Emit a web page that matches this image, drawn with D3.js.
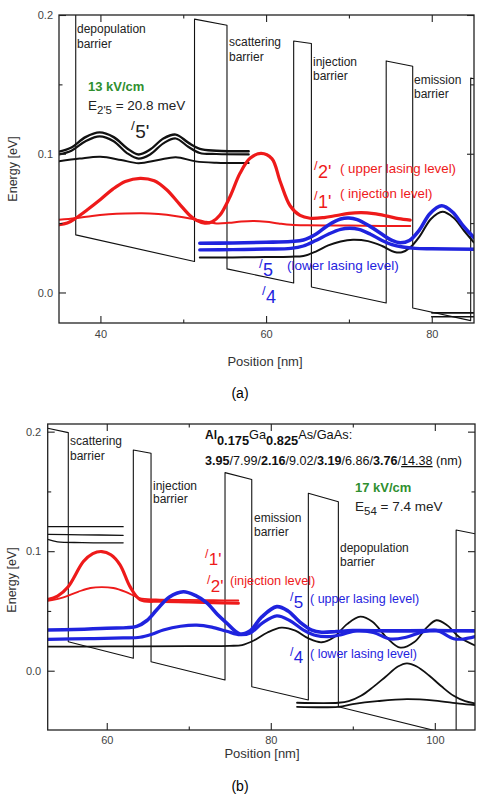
<!DOCTYPE html>
<meta charset="utf-8">
<script src="https://d3js.org/d3.v7.min.js"></script>
<style>
  body { margin: 0; background: #fff; }
  text { font-family: Arial, "Liberation Sans", sans-serif; }
</style>
<div id="fig"></div>
<script>

// ---------- panel (a): 13 kV/cm ----------
var aXDomain = [35, 85.1], aYDomain = [-0.022, 0.2];
var aXTicks = [40, 60, 80], aXMinor = [50, 70];
var aYTicks = [0.0, 0.1, 0.2], aYMinor = [0.05, 0.15];

// conduction band edge (position nm, energy eV)
var bandA = [[37.02,0.25],[37.02,0.0415],[51.36,0.0223],[51.36,0.197],[55.28,0.1926],[55.28,0.017],
  [63.33,0.0068],[63.33,0.1813],[65.47,0.1794],[65.47,0.0039],[74.5,-0.0076],[74.5,0.1669],
  [77.7,0.163],[77.7,-0.0112],[84.7,-0.0203],[84.7,0.1545],[85.3,0.1538]];

// black states of the previous period (5' etc.)
var blackA1 = [[35,0.1015],[36.5,0.1045],[38.2,0.112],[39.9,0.1154],[41.6,0.112],[43.2,0.104],[44.6,0.0995],
  [46,0.103],[47.6,0.111],[49.1,0.1138],[50.6,0.108],[52,0.1035],[54,0.1022],[57.9,0.1018]];
var blackA2 = [[35,0.0995],[36.5,0.1022],[38.2,0.109],[39.9,0.1125],[41.6,0.109],[43.2,0.1005],[44.6,0.0965],
  [46,0.0995],[47.6,0.1075],[49.1,0.111],[50.6,0.105],[52,0.1005],[54,0.0998],[57.9,0.0995]];
var blackA3 = [[35,0.0945],[37.5,0.0965],[40,0.0978],[42.5,0.0955],[44.6,0.0932],[47,0.0955],[49.1,0.0975],
  [51.5,0.0945],[54,0.0935],[57.9,0.0933]];
var blackA4 = [[52,0.0252],[56,0.0253],[60,0.0255],[63,0.0258],[64.5,0.0263],[66,0.0295],[67.5,0.034],
  [69,0.0368],[70.5,0.038],[72.3,0.037],[74,0.0335],[75.5,0.0292],[76.4,0.029],[77.4,0.0325],[78.6,0.041],
  [79.9,0.053],[81.3,0.0582],[82.6,0.054],[83.9,0.0445],[85.1,0.036]];
var blackA5 = [[80,-0.0147],[85.1,-0.0147]];
var blackA6 = [[80,-0.0175],[85.1,-0.0175]];

// red: 2' (upper lasing level) and 1' (injection level)
var redA2 = [[35,0.0488],[36,0.050],[37,0.0535],[38.5,0.060],[40,0.067],[41.5,0.0745],[43,0.080],[44.8,0.0823],
  [46.5,0.0805],[48,0.074],[49.5,0.064],[50.8,0.0555],[51.6,0.052],[52.6,0.050],[53.5,0.051],[54.44,0.0558],
  [55.64,0.069],[56.85,0.0859],[58.06,0.0967],[59.4,0.1003],[60.7,0.0965],[61.7,0.080],[62.9,0.0625],
  [64.1,0.0555],[65.3,0.0535],[67,0.054],[68.5,0.0555],[70,0.057],[71.5,0.0575],[73,0.0568],[74.5,0.0552],
  [76,0.0532],[77.4,0.0522]];
var redA1 = [[35,0.0525],[37,0.0535],[39,0.0552],[41,0.0563],[43,0.0569],[45,0.0571],[47,0.0565],[49,0.0552],
  [51,0.0532],[52.5,0.0512],[54,0.0498],[55.5,0.0502],[57,0.0512],[58.5,0.0516],[60,0.051],[61.5,0.0498],
  [63,0.0488],[65,0.0484],[70,0.0482],[74,0.048],[77.4,0.048]];

// blue: 5 and 4
var blueA5 = [[52,0.0355],[56,0.0357],[60,0.0362],[63,0.0368],[64.5,0.0378],[66,0.042],[67.5,0.0485],
  [69,0.053],[70,0.0537],[71,0.0525],[72.5,0.0478],[74,0.042],[75.2,0.0375],[76.2,0.0358],[77.3,0.0375],
  [78.5,0.045],[79.8,0.057],[81.2,0.0625],[82.5,0.058],[83.8,0.048],[85.1,0.0395]];
var blueA4 = [[52,0.0307],[56,0.0309],[60,0.0313],[63,0.0318],[64.5,0.0335],[66,0.0375],[67.5,0.042],
  [69,0.0455],[70.1,0.0463],[71.2,0.0455],[72.6,0.042],[74,0.0375],[75.2,0.0345],[76.5,0.0328],
  [78,0.0318],[80,0.0315],[85.1,0.0312]];

// ---------- panel (b): 17 kV/cm ----------
var bXDomain = [52.8, 104.9], bYDomain = [-0.0496, 0.2064];
var bXTicks = [60, 80, 100], bXMinor = [70, 90];
var bYTicks = [0.0, 0.1, 0.2], bYMinor = [0.05, 0.15];

var bandB = [[52.8,0.2028],[55.31,0.1992],[55.31,0.0243],[63.24,0.0104],[63.24,0.1847],[65.4,0.1819],
  [65.4,0.0075],[74.42,-0.0078],[74.42,0.1657],[77.68,0.160],[77.68,-0.0134],[84.58,-0.0245],
  [84.58,0.1485],[88.24,0.1414],[88.24,-0.0301],[102.6,-0.0545],[102.6,0.1177],[105.2,0.1142]];

var blackB1 = [[52.8,0.1205],[62.0,0.1205]];
var blackB2 = [[52.8,0.1140],[57,0.1137],[62.0,0.1133]];
var blackB3 = [[52.8,0.1098],[54,0.1078],[57,0.1072],[62.0,0.1070]];
var blackB4 = [[52.8,0.0201],[60,0.0203],[70,0.0206],[75,0.0208],[76.5,0.0215],[78,0.0255],[79.6,0.032],
  [81.3,0.036],[83,0.0335],[84.6,0.027],[86.2,0.0238],[87.7,0.028],[89.3,0.039],[90.9,0.0452],[92.4,0.041],
  [94.1,0.028],[95.8,0.0193],[97.5,0.024],[99,0.036],[100.2,0.0422],[101.5,0.038],[103,0.028],[104.9,0.0212]];
var blackB5 = [[83.2,-0.0268],[88.24,-0.0268],[89.5,-0.0255],[91,-0.021],[92.5,-0.0135],[94,-0.005],
  [95.5,0.0035],[96.6,0.0062],[97.8,0.0035],[99.3,-0.004],[100.8,-0.013],[102.3,-0.021],[103.7,-0.0255],[104.9,-0.0273]];
var blackB6 = [[83.2,-0.0302],[88.24,-0.0302],[90,-0.028],[93,-0.0255],[96.6,-0.0238],[100,-0.025],
  [103,-0.0275],[104.9,-0.0287]];

var redB1 = [[52.8,0.0595],[54,0.0625],[55.3,0.0703],[57.15,0.0913],[58.3,0.098],[59.4,0.0997],[60.5,0.097],
  [61.62,0.0886],[62.84,0.0703],[64.06,0.0595],[66.5,0.0581],[70,0.0576],[73,0.057],[76.04,0.0565]];
var redB2 = [[52.8,0.0585],[54.5,0.061],[56.5,0.066],[58,0.0692],[59.4,0.070],[60.8,0.0692],[62.3,0.066],
  [64,0.0608],[66,0.0596],[70,0.0592],[73,0.059],[76.04,0.0588]];

var blueB5 = [[52.8,0.034],[56,0.0345],[60,0.0355],[63.65,0.0371],[64.9,0.042],[66.1,0.051],[67.6,0.0615],
  [69.34,0.0661],[70.8,0.063],[72.2,0.0567],[73.5,0.047],[74.63,0.0399],[76.25,0.0308],[77.5,0.0335],
  [78.9,0.045],[80.73,0.0536],[82.1,0.050],[83.5,0.041],[85,0.034],[86.2,0.0322],[88,0.0328],[90,0.0335],
  [95,0.0333],[100,0.0335],[104.9,0.0333]];
var blueB4 = [[52.8,0.0263],[58,0.0268],[62,0.0274],[64.06,0.028],[65.5,0.0305],[66.9,0.034],[69,0.0372],
  [70.97,0.0382],[72.8,0.0365],[74.63,0.033],[76.25,0.0301],[77.5,0.0315],[79,0.040],[80.73,0.0458],
  [82.3,0.042],[84,0.034],[85.5,0.0295],[87,0.0285],[88.5,0.030],[90.5,0.0335],[92.5,0.032],[94.6,0.0265],
  [96.5,0.028],[98.5,0.0325],[100.2,0.0338],[102.3,0.0268],[103.5,0.0265],[104.9,0.0285]];

// layer sequence printed in panel (b): [thickness, barrier?]
var layers = [["3.95", true], ["7.99", false], ["2.16", true], ["9.02", false],
  ["3.19", true], ["6.86", false], ["3.76", true], ["14.38", false]];

var RED = "#ee1a1a", BLUE = "#1f23de", GREEN = "#2f8f2f";

var svg = d3.select("#fig").append("svg")
  .attr("width", 478).attr("height", 796);

function drawPanel(p) {
  var x = d3.scaleLinear().domain(p.xDomain).range([p.left, p.right]);
  var y = d3.scaleLinear().domain(p.yDomain).range([p.bottom, p.top]);

  svg.append("clipPath").attr("id", "clip" + p.id)
    .append("rect")
      .attr("x", p.left).attr("y", p.top)
      .attr("width", p.right - p.left).attr("height", p.bottom - p.top);

  var plot = svg.append("g").attr("clip-path", "url(#clip" + p.id + ")");

  p.series.forEach(function(s) {
    plot.append("path")
      .datum(s.data)
      .attr("d", d3.line()
        .x(function(d) { return x(d[0]); })
        .y(function(d) { return y(d[1]); })
        .curve(s.smooth ? d3.curveCatmullRom.alpha(0.5) : d3.curveLinear))
      .attr("fill", "none")
      .attr("stroke", s.color)
      .attr("stroke-width", s.width)
      .attr("stroke-linejoin", "round")
      .attr("stroke-linecap", s.smooth ? "round" : "butt");
  });

  // axes, ticks pointing inward on all four sides
  function axis(gen, tr, vals, size, fmt, pad) {
    var a = svg.append("g").attr("transform", tr)
      .call(gen.tickValues(vals).tickSize(size).tickPadding(pad || 3).tickFormat(fmt || ""));
    a.select(".domain").remove();
    a.selectAll("line").attr("stroke", "#222").attr("stroke-width", 1.1);
    a.selectAll("text").attr("fill", "#444").attr("font-size", 11)
      .attr("font-family", "Arial, 'Liberation Sans', sans-serif");
    return a;
  }
  var fx = d3.format("d"), fy = d3.format(".1f");
  axis(d3.axisBottom(x), "translate(0," + p.bottom + ")", p.xTicks, -7, fx, p.xPad);
  axis(d3.axisBottom(x), "translate(0," + p.bottom + ")", p.xMinor, -3.5);
  axis(d3.axisTop(x), "translate(0," + p.top + ")", p.xTicks, -7);
  axis(d3.axisTop(x), "translate(0," + p.top + ")", p.xMinor, -3.5);
  axis(d3.axisLeft(y), "translate(" + p.left + ",0)", p.yTicks, -7, fy, p.yPad);
  axis(d3.axisLeft(y), "translate(" + p.left + ",0)", p.yMinor, -3.5);
  axis(d3.axisRight(y), "translate(" + p.right + ",0)", p.yTicks, -7);
  axis(d3.axisRight(y), "translate(" + p.right + ",0)", p.yMinor, -3.5);

  svg.append("rect")
    .attr("x", p.left).attr("y", p.top)
    .attr("width", p.right - p.left).attr("height", p.bottom - p.top)
    .attr("fill", "none").attr("stroke", "#222").attr("stroke-width", 1.3);

  svg.append("text")
    .attr("transform", "translate(" + p.yTitleX + "," + p.yTitleY + ") rotate(-90)")
    .attr("text-anchor", "middle").attr("font-size", 12.5).attr("fill", "#333")
    .text("Energy [eV]");
  svg.append("text")
    .attr("x", p.xTitleX).attr("y", p.xTitleY)
    .attr("text-anchor", "middle").attr("font-size", 13).attr("fill", "#333")
    .text("Position [nm]");
  svg.append("text")
    .attr("x", 240).attr("y", p.capY)
    .attr("text-anchor", "middle").attr("font-size", 14)
    .attr("font-family", "'Liberation Serif', 'Times New Roman', serif")
    .text(p.caption);
}

var thin = function(d) { return { data: d, color: "#111", width: 1.1, smooth: false }; };

drawPanel({
  id: "a", xDomain: aXDomain, yDomain: aYDomain,
  xTicks: aXTicks, xMinor: aXMinor, yTicks: aYTicks, yMinor: aYMinor,
  left: 59, right: 474, top: 15, bottom: 323, xPad: 7, yPad: 6,
  yTitleX: 17, yTitleY: 169, xTitleX: 265, xTitleY: 366, capY: 398, caption: "(a)",
  series: [
    thin(bandA),
    { data: blackA3, color: "#111", width: 2, smooth: true },
    { data: blackA2, color: "#111", width: 2.2, smooth: true },
    { data: blackA1, color: "#111", width: 2.4, smooth: true },
    { data: blackA5, color: "#111", width: 1.6, smooth: true },
    { data: blackA6, color: "#111", width: 1.6, smooth: true },
    { data: redA1, color: RED, width: 2, smooth: true },
    { data: redA2, color: RED, width: 3.2, smooth: true },
    { data: blackA4, color: "#111", width: 2, smooth: true },
    { data: blueA4, color: BLUE, width: 3.4, smooth: true },
    { data: blueA5, color: BLUE, width: 3.6, smooth: true }
  ]
});

drawPanel({
  id: "b", xDomain: bXDomain, yDomain: bYDomain,
  xTicks: bXTicks, xMinor: bXMinor, yTicks: bYTicks, yMinor: bYMinor,
  left: 47.7, right: 475, top: 424, bottom: 730, xPad: 6, yPad: 6.5,
  yTitleX: 16, yTitleY: 580, xTitleX: 262, xTitleY: 758, capY: 791, caption: "(b)",
  series: [
    thin(bandB),
    { data: blackB1, color: "#111", width: 1.3, smooth: true },
    { data: blackB2, color: "#111", width: 1.3, smooth: true },
    { data: blackB3, color: "#111", width: 1.3, smooth: true },
    { data: blackB4, color: "#111", width: 1.8, smooth: true },
    { data: blackB5, color: "#111", width: 1.8, smooth: true },
    { data: blackB6, color: "#111", width: 1.8, smooth: true },
    { data: redB2, color: RED, width: 1.8, smooth: true },
    { data: redB1, color: RED, width: 3.2, smooth: true },
    { data: blueB4, color: BLUE, width: 3.2, smooth: true },
    { data: blueB5, color: BLUE, width: 3.6, smooth: true }
  ]
});

// ---------- annotations ----------
function label(x, y, str, size, color, weight) {
  return svg.append("text").attr("x", x).attr("y", y)
    .attr("font-size", size || 12).attr("fill", color || "#222")
    .attr("font-weight", weight || "normal").text(str);
}
function twoLines(x, y1, y2, a, b, size) {
  label(x, y1, a, size); label(x, y2, b, size);
}
// state label: small raised slash, then the larger index beside it
function stateLabel(x, y, idx, color, size) {
  label(x, y - size * 0.42, "/", size * 0.72, color);
  label(x + size * 0.22, y, idx, size, color);
}
function energyLabel(x, y, sub, rest, size) {
  var t = svg.append("text").attr("x", x).attr("y", y).attr("font-size", size).attr("fill", "#222");
  t.append("tspan").text("E");
  t.append("tspan").attr("font-size", size * 0.85).attr("dy", 4).text(sub);
  t.append("tspan").attr("dy", -4).text(rest);
}

// (a)
twoLines(77, 33, 47.5, "depopulation", "barrier", 12);
twoLines(229, 46, 60.5, "scattering", "barrier", 12);
twoLines(313, 65.5, 80, "injection", "barrier", 12);
twoLines(414, 83.5, 98, "emission", "barrier", 12);
label(88, 91, "13 kV/cm", 13, GREEN, "bold");
energyLabel(88, 110, "2'5", " = 20.8 meV", 13.5);
stateLabel(131, 138, "5'", "#222", 19);
stateLabel(314, 178, "2'", RED, 18);
label(340, 173, "( upper lasing level)", 13.3, RED);
stateLabel(314, 208, "1'", RED, 18);
label(340, 198, "( injection level)", 13.3, RED);
stateLabel(259, 276, "5", BLUE, 18);
label(287, 270, "(lower lasing level)", 13.5, BLUE);
stateLabel(262, 302.5, "4", BLUE, 18);

// (b)
twoLines(70, 445, 459.5, "scattering", "barrier", 12);
twoLines(153, 489.5, 503, "injection", "barrier", 12);
twoLines(254, 521.5, 535.5, "emission", "barrier", 12);
twoLines(340, 551.5, 565.5, "depopulation", "barrier", 12);
label(355, 491.5, "17 kV/cm", 13, GREEN, "bold");
energyLabel(355, 510.5, "54", " = 7.4 meV", 13.5);

var comp = svg.append("text").attr("x", 205).attr("y", 438.5).attr("font-size", 12.8).attr("fill", "#111");
comp.append("tspan").attr("font-weight", "bold").attr("font-size", 12).text("Al");
comp.append("tspan").attr("font-weight", "bold").attr("dy", 6.5).text("0.175");
comp.append("tspan").attr("dy", -6.5).text("Ga");
comp.append("tspan").attr("font-weight", "bold").attr("dy", 6.5).text("0.825");
comp.append("tspan").attr("dy", -6.5).text("As/GaAs:");

var lt = svg.append("text").attr("x", 205).attr("y", 465).attr("font-size", 12.6).attr("fill", "#111");
layers.forEach(function(l, i) {
  if (i > 0) lt.append("tspan").text("/");
  var ts = lt.append("tspan").attr("font-weight", l[1] ? "bold" : "normal").text(l[0]);
  if (i === layers.length - 1) ts.style("text-decoration", "underline");
});
lt.append("tspan").text(" (nm)");

stateLabel(205, 565, "1'", RED, 17);
stateLabel(207, 591.5, "2'", RED, 17);
label(230, 585, "(injection level)", 12.8, RED);
stateLabel(290, 608, "5", BLUE, 17);
label(310, 603, "( upper lasing level)", 12.5, BLUE);
stateLabel(290, 663, "4", BLUE, 17);
label(310, 658, "( lower lasing level)", 12.5, BLUE);

</script>
